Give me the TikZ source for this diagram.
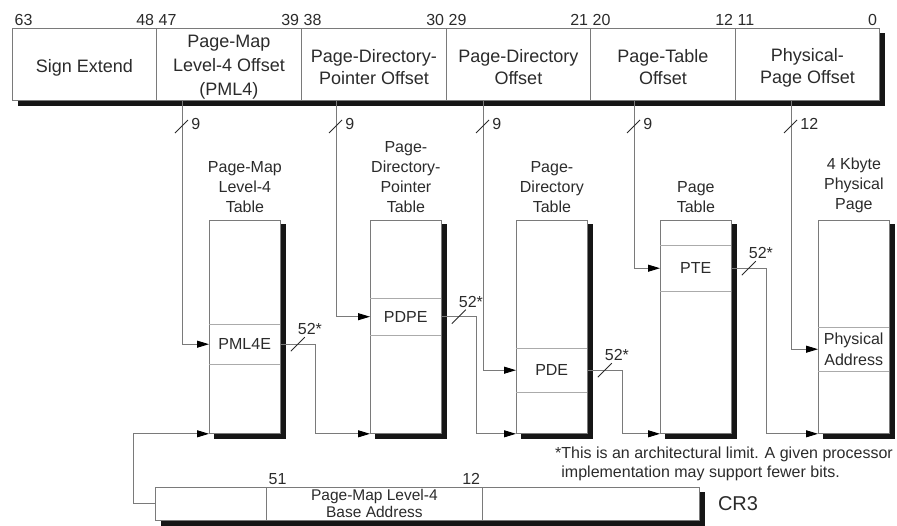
\documentclass[tikz,border=0pt]{standalone}
\usepackage{fontspec}
\setmainfont{Liberation Sans}
\usepackage{tikz}
\usetikzlibrary{positioning, arrows.meta, calc, backgrounds}
\definecolor{mapInk}{HTML}{2B2B2B}
\definecolor{mapLine}{HTML}{7A7A7A}
\definecolor{mapRule}{HTML}{ABABAB}
\definecolor{mapShadow}{HTML}{161616}

\begin{document}
\begin{tikzpicture}[
  x=1pt, y=-1pt,
  every node/.style={text=mapInk, inner sep=0pt},
  regframe/.style={fill=white},
  field/.style={
    draw=mapLine, line width=0.8pt, fill=white,
    minimum height=72pt
  },
  fieldtxt/.style={align=center, font=\fontsize{18}{22}\selectfont},
  crfield/.style={
    draw=mapLine, line width=0.8pt, fill=white,
    minimum height=33pt, align=center,
    font=\fontsize{15.5}{17}\selectfont
  },
  bitno/.style={font=\fontsize{16}{16}\selectfont, inner sep=2.5pt},
  tbl/.style={
    draw=mapLine, line width=0.8pt, fill=white,
    minimum width=71pt, minimum height=213pt
  },
  tbltitle/.style={align=center, font=\fontsize{16}{20}\selectfont},
  entry/.style={minimum width=71pt, align=center, font=\fontsize{16}{21}\selectfont},
  rule/.style={draw=mapRule, line width=0.8pt},
  dropfill/.style={fill=mapShadow},
  link/.style={
    draw=mapLine, line width=0.9pt,
    -{Triangle[length=12pt, width=7pt, color=black]}
  },
  bus/.style={draw=mapInk, line width=0.9pt},
  buslbl/.style={font=\fontsize{16}{16}\selectfont},
  remark/.style={align=left, font=\fontsize{16}{19}\selectfont},
]
\useasboundingbox (0,0) rectangle (897,525);

% === VIRTUAL ADDRESS ===
\node[regframe, minimum width=867pt, minimum height=72pt, anchor=north west] (va) at (12,28) {};
\foreach \nm/\xa/\xb/\hi/\lo/\txt in {
  sign/12/156/63/48/{Sign Extend},
  pml4/156/301/47/39/{Page-Map\\[2pt]Level-4 Offset\\[2pt](PML4)},
  pdp/301/446/38/30/{Page-Directory-\\Pointer Offset},
  pd/446/590/29/21/{Page-Directory\\Offset},
  pt/590/735/20/12/{Page-Table\\Offset},
  pg/735/879/11/0/{Physical-\\Page Offset}} {
  \node[field, minimum width={(\xb-\xa)*1pt}, anchor=north west] (va-\nm) at (\xa,28) {};
  \node[fieldtxt] (txt-\nm) at ($(va-\nm.center)+(0,3)$) {\txt};
  \node[bitno, anchor=south west] (hi-\nm) at (va-\nm.north west) {\hi};
  \node[bitno, anchor=south east] (lo-\nm) at (va-\nm.north east) {\lo};
}

% === TABLES ===
\foreach \nm/\xa/\txt in {
  pml4/209/{Page-Map\\Level-4\\Table},
  pdp/370/{Page-\\Directory-\\Pointer\\Table},
  pd/516/{Page-\\Directory\\Table},
  pt/660/{Page\\Table},
  pg/818/{4 Kbyte\\Physical\\Page}} {
  \node[tbl, anchor=north west] (t-\nm) at (\xa,220) {};
  \node[tbltitle, above=7pt of t-\nm] (tt-\nm) {\txt};
}

% Entries
\node[entry, minimum height=40pt, anchor=north west] (e-pml4) at (t-pml4.west |- 0,324) {PML4E};
\node[entry, minimum height=37pt, anchor=north west] (e-pdp) at (t-pdp.west |- 0,298) {PDPE};
\node[entry, minimum height=44pt, anchor=north west] (e-pd) at (t-pd.west |- 0,348) {PDE};
\node[entry, minimum height=46pt, anchor=north west] (e-pt) at (t-pt.west |- 0,245) {PTE};
\node[entry, minimum height=44pt, anchor=north west] (e-pg) at (t-pg.west |- 0,327) {Physical\\Address};
\foreach \nm in {pml4, pdp, pd, pt, pg} {
  \draw[rule] (e-\nm.north west) -- (e-\nm.north east)
              (e-\nm.south west) -- (e-\nm.south east);
}

% === OFFSET LINES ===
\foreach \nm/\x/\w in {pml4/182/9, pdp/336/9, pd/483/9, pt/634/9, pg/791/12} {
  \draw[link] (\x,0 |- va-\nm.south) |- (e-\nm.west);
  \draw[bus] (\x,126) +(-7,7) -- +(6,-6)
    node[buslbl, anchor=west, xshift=3pt, yshift=-4pt] (w-\nm) {\w};
}

% Entry to next table base
\foreach \a/\b in {pml4/pdp, pdp/pd, pd/pt, pt/pg} {
  \draw[link] (e-\a.east) -- coordinate (b-\a) ++(35,0) |- (t-\b.south west);
  \draw[bus] (b-\a) +(-7,7) -- +(7,-7)
    node[buslbl, anchor=south, xshift=5pt, yshift=2pt] (n-\a) {52*};
}

% === CR3 ===
\node[regframe, minimum width=544pt, minimum height=33pt, anchor=north west] (cr) at (155,487) {};
\foreach \nm/\xa/\xb/\txt in {
  low/155/266/{},
  base/266/482/{Page-Map Level-4\\Base Address},
  high/482/699/{}} {
  \node[crfield, minimum width={(\xb-\xa)*1pt}, anchor=north west] (cr-\nm) at (\xa,487) {\txt};
}
\node[bitno, anchor=south west] (cr-hi) at (cr-base.north west) {51};
\node[bitno, anchor=south east] (cr-lo) at (cr-base.north east) {12};
\node[font=\fontsize{20}{20}\selectfont, right=18pt of cr-high] (cr-name) {CR3};

\draw[link] (cr-low.west) -- ++(-22,0) |- (t-pml4.south west);

% Footnote
\node[remark, anchor=north west] (note) at (555,447)
  {*This is an architectural limit. A given processor\\\hphantom{*}implementation may support fewer bits.};

% === SHADOWS ===
\begin{scope}[on background layer]
  \fill[dropfill] ($(va.north west)+(6,5)$) rectangle ($(va.south east)+(6,6)$);
  \fill[dropfill] ($(cr.north west)+(6,5)$) rectangle ($(cr.south east)+(6,6)$);
  \foreach \nm in {pml4, pdp, pd, pt, pg}
    \fill[dropfill] ($(t-\nm.north west)+(5,4)$) rectangle ($(t-\nm.south east)+(5,5)$);
\end{scope}

\end{tikzpicture}
\end{document}
